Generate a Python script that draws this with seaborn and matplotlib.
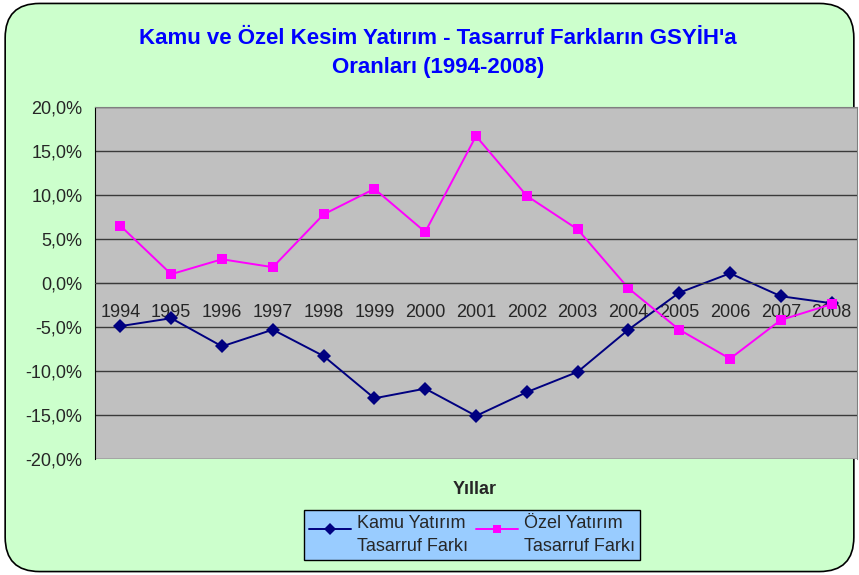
import numpy as np
import pandas as pd
import matplotlib
matplotlib.use('Agg')
import matplotlib.pyplot as plt
from matplotlib.patches import FancyBboxPatch
from matplotlib.ticker import FixedLocator, FuncFormatter
from matplotlib.legend_handler import HandlerLine2D
import seaborn as sns

years = [1994, 1995, 1996, 1997, 1998, 1999, 2000, 2001, 2002, 2003, 2004, 2005, 2006, 2007, 2008]
kamu = [-4.9, -4.0, -7.2, -5.3, -8.3, -13.1, -12.0, -15.1, -12.4, -10.1, -5.3, -1.1, 1.1, -1.5, -2.3]
ozel = [6.5, 1.0, 2.7, 1.8, 7.8, 10.7, 5.8, 16.7, 9.9, 6.1, -0.6, -5.3, -8.6, -4.2, -2.4]
series_names = ['Kamu Yatırım\nTasarruf Farkı', 'Özel Yatırım\nTasarruf Farkı']
title = "Kamu ve Özel Kesim Yatırım - Tasarruf Farkların GSYİH'a\nOranları (1994-2008)"
yticks = [20, 15, 10, 5, 0, -5, -10, -15, -20]

sns.set_style('white')
plt.rcParams['font.family'] = ['Liberation Sans', 'DejaVu Sans']

df = pd.DataFrame({
    'idx': list(range(len(years))) * 2,
    'val': kamu + ozel,
    'seri': [series_names[0]] * len(years) + [series_names[1]] * len(years),
})


# legend handle sits on the first text line like in Excel
class TopLine(HandlerLine2D):
    def create_artists(self, legend, orig_handle, xdescent, ydescent, width, height, fontsize, trans):
        return super().create_artists(legend, orig_handle, xdescent, ydescent - 0.72 * fontsize,
                                      width, height, fontsize, trans)


fig = plt.figure(figsize=(8.59, 5.75), dpi=100)
fig.patch.set_facecolor('white')
bg = FancyBboxPatch((0.006, 0.006), 0.988, 0.988, boxstyle='round,pad=0,rounding_size=0.04',
                    transform=fig.transFigure, facecolor='#CCFFCC', edgecolor='black', lw=1.2,
                    mutation_aspect=859 / 575, zorder=-10)
fig.patches.append(bg)

ax = fig.add_axes([0.1106, 0.2017, 0.8871, 0.6122])
ax.set_facecolor('#C0C0C0')
ax.set_zorder(1)

sns.lineplot(data=df, x='idx', y='val', hue='seri', style='seri',
             palette=['#000080', '#FF00FF'], markers=['D', 's'], dashes=False,
             markersize=7.5, linewidth=1.4, markeredgewidth=0, ax=ax, legend=False)

ax.set_xlim(-0.5, len(years) - 0.5)
ax.set_ylim(-20, 20)
ax.set_yticks(yticks)
ax.yaxis.set_major_formatter(FuncFormatter(lambda v, p: f'{v:.1f}%'.replace('.', ',')))
for v in yticks:
    ax.axhline(v, color='#3a3a3a', lw=1.0, zorder=0.5)

ax.spines['bottom'].set_position(('data', 0))
ax.spines['bottom'].set_color('#3a3a3a')
for s in ['top', 'right']:
    ax.spines[s].set_color('#808080')
ax.spines['left'].set_color('black')

ax.xaxis.set_major_locator(FixedLocator(np.arange(0.5, len(years) - 0.5, 1)))
ax.xaxis.set_minor_locator(FixedLocator(np.arange(len(years))))
ax.xaxis.set_major_formatter(FuncFormatter(lambda v, p: ''))
ax.xaxis.set_minor_formatter(FuncFormatter(lambda v, p: str(years[int(round(v))])))
ax.tick_params(axis='x', which='major', direction='out', length=5, width=1, color='#3a3a3a')
ax.tick_params(axis='x', which='minor', length=0, pad=15, labelsize=13)
ax.tick_params(axis='y', direction='out', length=6, width=1, color='black', labelsize=13, pad=3)
ax.set_xlabel('')
ax.set_ylabel('')

fig.text(0.553, 1 - 489 / 575, 'Yıllar', ha='center', va='center', fontsize=13, fontweight='bold')
fig.text(0.51, 1 - 53 / 575, title, ha='center', va='center', fontsize=16, fontweight='bold',
         color='#0000FF', linespacing=1.5)

handles = [plt.Line2D([], [], color='#000080', marker='D', markersize=6, lw=1.4, markeredgewidth=0),
           plt.Line2D([], [], color='#FF00FF', marker='s', markersize=6, lw=1.4, markeredgewidth=0)]
leg = fig.legend(handles, series_names, loc='center', bbox_to_anchor=(472 / 859, 1 - 535 / 575),
                 ncol=2, frameon=True, fancybox=False, fontsize=13, handlelength=2.35,
                 handletextpad=0.3, columnspacing=0.45, borderpad=0.3, labelspacing=0.2,
                 handler_map={plt.Line2D: TopLine()})
leg.get_frame().set_facecolor('#99CCFF')
leg.get_frame().set_edgecolor('black')
leg.get_frame().set_alpha(1)
for t in leg.get_texts():
    t.set_linespacing(1.45)
    t.set_multialignment('left')

fig.savefig('out.png', dpi=100)
